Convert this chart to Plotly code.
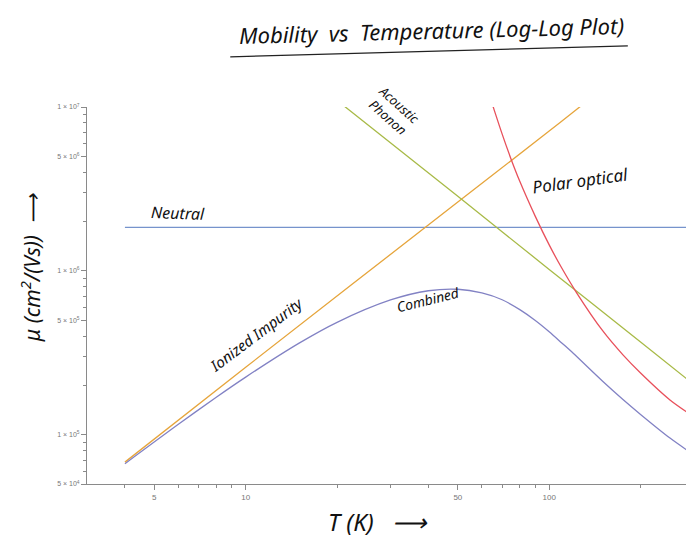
import plotly.graph_objects as go

# ---- data ----
T_neutral = [4, 300]
mu_neutral = [1.84e6, 1.84e6]

T_ionized = [4, 10, 50, 100, 126, 140]
mu_ionized = [6.8e4, 2.58e5, 2.63e6, 7.13e6, 1.0e7, 1.16e7]

T_acoustic = [20, 21.3, 50, 100, 200, 300]
mu_acoustic = [1.1e7, 1.0e7, 2.85e6, 1.02e6, 3.68e5, 2.02e5]

T_polar = [63, 65.4, 70, 75, 80, 90, 100, 110, 123, 150, 175, 200, 250, 300]
mu_polar = [1.24e7, 1.0e7, 6.83e6, 4.77e6, 3.52e6, 2.15e6, 1.44e6, 1.04e6, 7.37e5,
            4.31e5, 3.07e5, 2.38e5, 1.63e5, 1.285e5]

T_combined = [4, 6, 8, 10, 15, 20, 30, 40, 50, 60, 70, 80, 90, 100, 110, 120, 150, 175, 200, 250, 300]
mu_combined = [6.65e4, 1.157e5, 1.693e5, 2.246e5, 3.62e5, 4.85e5, 6.64e5, 7.56e5, 7.72e5,
               7.33e5, 6.66e5, 5.8e5, 4.98e5, 4.25e5, 3.63e5, 3.14e5, 2.12e5, 1.64e5,
               1.33e5, 9.54e4, 7.52e4]

x_major = [5, 10, 50, 100]
x_major_text = ["5", "10", "50", "100"]
x_minor = [4, 6, 7, 8, 9, 20, 30, 40, 60, 70, 80, 90, 200, 300]

y_major = [5e4, 1e5, 5e5, 1e6, 5e6, 1e7]
y_major_text = ["5 × 10<sup>4</sup>", "1 × 10<sup>5</sup>", "5 × 10<sup>5</sup>",
                "1 × 10<sup>6</sup>", "5 × 10<sup>6</sup>", "1 × 10<sup>7</sup>"]
y_minor = [6e4, 7e4, 8e4, 9e4, 2e5, 3e5, 4e5, 6e5, 7e5, 8e5, 9e5,
           2e6, 3e6, 4e6, 6e6, 7e6, 8e6, 9e6]

fig = go.Figure()
series = [
    (T_neutral, mu_neutral, "#7693cc"),
    (T_ionized, mu_ionized, "#e6a53c"),
    (T_acoustic, mu_acoustic, "#a8ba47"),
    (T_polar, mu_polar, "#e8505b"),
    (T_combined, mu_combined, "#8282c4"),
]
for xs, ys, c in series:
    fig.add_trace(go.Scatter(x=xs, y=ys, mode="lines",
                             line=dict(color=c, width=1.3, shape="spline", smoothing=0.8),
                             showlegend=False, hoverinfo="skip"))

axis_common = dict(showline=True, linecolor="#8a8a8a", linewidth=1, showgrid=False,
                   zeroline=False, ticks="outside", ticklen=5, tickcolor="#8a8a8a",
                   tickfont=dict(family="Liberation Sans", size=8, color="#777777"),
                   tickmode="array")

fig.update_xaxes(type="log", range=[0.47712, 2.47712], tickvals=x_major, ticktext=x_major_text,
                 minor=dict(tickmode="array", tickvals=x_minor, ticks="outside", ticklen=3,
                            tickcolor="#8a8a8a"),
                 **axis_common)
fig.update_yaxes(type="log", range=[4.69897, 7.0], tickvals=y_major, ticktext=y_major_text,
                 minor=dict(tickmode="array", tickvals=y_minor, ticks="outside", ticklen=3,
                            tickcolor="#8a8a8a"),
                 **axis_common)
fig.update_yaxes(tickfont=dict(size=7))

hand = dict(family="Noto Sans", color="#111111", style="italic")

def note(text, x, y, size, angle=0):
    fig.add_annotation(text=text, xref="paper", yref="paper", x=x, y=y, showarrow=False,
                       xanchor="center", yanchor="middle",
                       textangle=angle, font=dict(size=size, **hand))

# paper coords: px = 87 + 607*x ; py = 484 - 377*y
note("Mobility  vs  Temperature (Log-Log Plot)", 0.567, 1.203, 22, -1.5)
note("μ (cm<sup>2</sup>/(Vs))  ⟶", -0.092, 0.573, 21, -90)
note("T (K)   ⟶", 0.479, -0.10, 24)
note("Neutral", 0.150, 0.719, 16, 2)
note("Ionized Impurity", 0.279, 0.398, 15, -37)
note("Combined", 0.562, 0.490, 14, -14)
note("Polar optical", 0.812, 0.805, 17, -8)
note("Acoustic<br>Phonon", 0.504, 0.99, 13, 42)

fig.add_shape(type="line", xref="paper", yref="paper", x0=0.236, y0=1.133, x1=0.891, y1=1.162,
              line=dict(color="#222222", width=1.2))

# the page adds an 8px body margin, so the figure is shrunk by that much
fig.update_layout(width=686, height=533, autosize=False,
                  margin=dict(l=79, r=0, t=99, b=57),
                  plot_bgcolor="white", paper_bgcolor="white")

fig.write_html("out.html")
